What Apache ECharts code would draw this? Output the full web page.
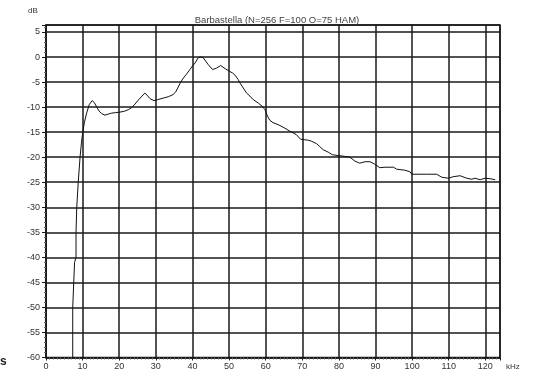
<!DOCTYPE html>
<html>
<head>
<meta charset="utf-8">
<script src="https://cdn.jsdelivr.net/npm/echarts@6/dist/echarts.min.js"></script>
<style>
  html, body { margin: 0; padding: 0; background: #fff; }
  #chart { width: 542px; height: 373px; }
</style>
</head>
<body>
<div id="chart"></div>
<script>
// Spectrum of a Barbastella call: frequency (kHz) vs. level (dB)
const titleText = 'Barbastella (N=256 F=100 O=75 HAM)';
const freqKHz = [
  7.3, 7.3, 7.8, 7.8, 8.2, 8.2, 8.4, 8.8, 9.3, 9.7,
  10.0, 10.5, 11.1, 11.8, 12.6, 13.2, 13.8, 14.5, 15.2, 16.1,
  17.0, 17.9, 19.0, 20.2, 21.5, 22.5, 23.4, 24.3, 25.2, 26.2,
  27.0, 27.6, 28.4, 29.5, 30.5, 32.0, 33.5, 34.7, 35.4, 36.1,
  36.8, 37.5, 38.4, 39.3, 40.0, 40.7, 41.6, 42.3, 42.9, 43.6,
  44.3, 45.5, 46.6, 47.7, 48.9, 50.0, 51.0, 51.6, 52.5, 53.0,
  53.9, 54.8, 55.7, 56.6, 58.0, 59.0, 59.8, 60.5, 61.1, 62.0,
  63.4, 65.0, 66.6, 68.4, 69.5, 70.5, 71.6, 72.5, 73.9, 74.8,
  75.7, 77.1, 78.2, 80.0, 81.2, 83.0, 84.4, 85.7, 87.1, 88.5,
  89.8, 91.2, 92.6, 94.9, 95.8, 98.0, 99.4, 99.9, 104.0, 106.7,
  108.1, 109.9, 111.2, 113.1, 114.9, 116.3, 117.2, 118.6, 119.9, 121.3,
  122.7
];
const levelDb = [
  -60, -50, -50, -41, -40, -35, -30, -25, -20, -17,
  -15.2, -13, -11.2, -9.5, -8.7, -9.1, -9.9, -10.8, -11.3, -11.6,
  -11.4, -11.2, -11.1, -11.0, -10.8, -10.5, -10.1, -9.4, -8.6, -7.8,
  -7.2, -7.6, -8.3, -8.7, -8.5, -8.2, -7.9, -7.5, -7.0, -6.0,
  -5.0, -4.2, -3.4, -2.5, -1.8, -1.2, -0.1, 0, -0.1, -0.8,
  -1.5, -2.5, -2.2, -1.7, -2.3, -2.8, -3.2, -3.6, -4.5, -5.2,
  -6.2, -7.2, -7.8, -8.5, -9.2, -9.8, -10.5, -11.8, -12.6, -13.1,
  -13.5, -14.1, -14.8, -15.5, -16.4, -16.5, -16.6, -16.8, -17.3, -17.9,
  -18.5, -19.0, -19.5, -19.7, -19.8, -20.0, -20.8, -21.2, -20.9, -20.9,
  -21.4, -22.1, -22.0, -22.0, -22.4, -22.6, -22.9, -23.4, -23.4, -23.4,
  -24.0, -24.2, -23.9, -23.7, -24.2, -24.4, -24.2, -24.5, -24.2, -24.3,
  -24.5
];
const xTickStep = 10;
const yTickStep = 5;

const chart = echarts.init(document.getElementById('chart'), null, { renderer: 'canvas' });

const ink = '#1a1a1a';
const fontFamily = 'Liberation Sans, Arial, sans-serif';
const labelFont = { fontFamily: fontFamily, fontSize: 9, color: '#333' };

chart.setOption({
  animation: false,
  backgroundColor: '#fff',
  title: {
    text: titleText,
    left: 272, top: 10, textAlign: 'center',
    textStyle: { fontFamily: fontFamily, fontSize: 9.5, fontWeight: 'normal', color: '#444' }
  },
  grid: {
    left: 46, right: 42, top: 25, bottom: 15.5,
    show: true, borderColor: ink, borderWidth: 1.5, backgroundColor: 'transparent'
  },
  xAxis: {
    type: 'value', min: 0, max: 124, interval: xTickStep,
    axisLine: { show: true, onZero: false, lineStyle: { color: ink, width: 1.5 } },
    axisTick: { show: true, length: 3, lineStyle: { color: ink } },
    minorTick: { show: true, splitNumber: 10, length: 2, lineStyle: { color: '#666' } },
    splitLine: { show: true, lineStyle: { color: ink, width: 1.5 } },
    axisLabel: Object.assign({ margin: 5, formatter: v => (v % xTickStep === 0 ? String(v) : '') }, labelFont)
  },
  yAxis: {
    type: 'value', min: -60, max: 6.4, interval: yTickStep,
    axisLine: { show: true, onZero: false, lineStyle: { color: ink, width: 1.5 } },
    axisTick: { show: true, length: 4, lineStyle: { color: ink } },
    minorTick: { show: true, splitNumber: 5, length: 2, lineStyle: { color: '#666' } },
    splitLine: { show: true, lineStyle: { color: ink, width: 1.5 } },
    axisLabel: Object.assign({ margin: 6, formatter: v => (v % yTickStep === 0 ? String(v) : '') }, labelFont)
  },
  graphic: [
    { type: 'text', left: 28, top: 7, style: { text: 'dB', font: '8px ' + fontFamily, fill: '#333' } },
    { type: 'text', left: 506, top: 363, style: { text: 'kHz', font: '8px ' + fontFamily, fill: '#333' } },
    { type: 'text', left: 0, top: 356, style: { text: 's', font: 'bold 12px ' + fontFamily, fill: '#222' } }
  ],
  series: [{
    type: 'line',
    data: freqKHz.map((f, i) => [f, levelDb[i]]),
    showSymbol: false,
    smooth: false,
    clip: true,
    lineStyle: { color: '#111', width: 1 }
  }]
});
</script>
</body>
</html>
